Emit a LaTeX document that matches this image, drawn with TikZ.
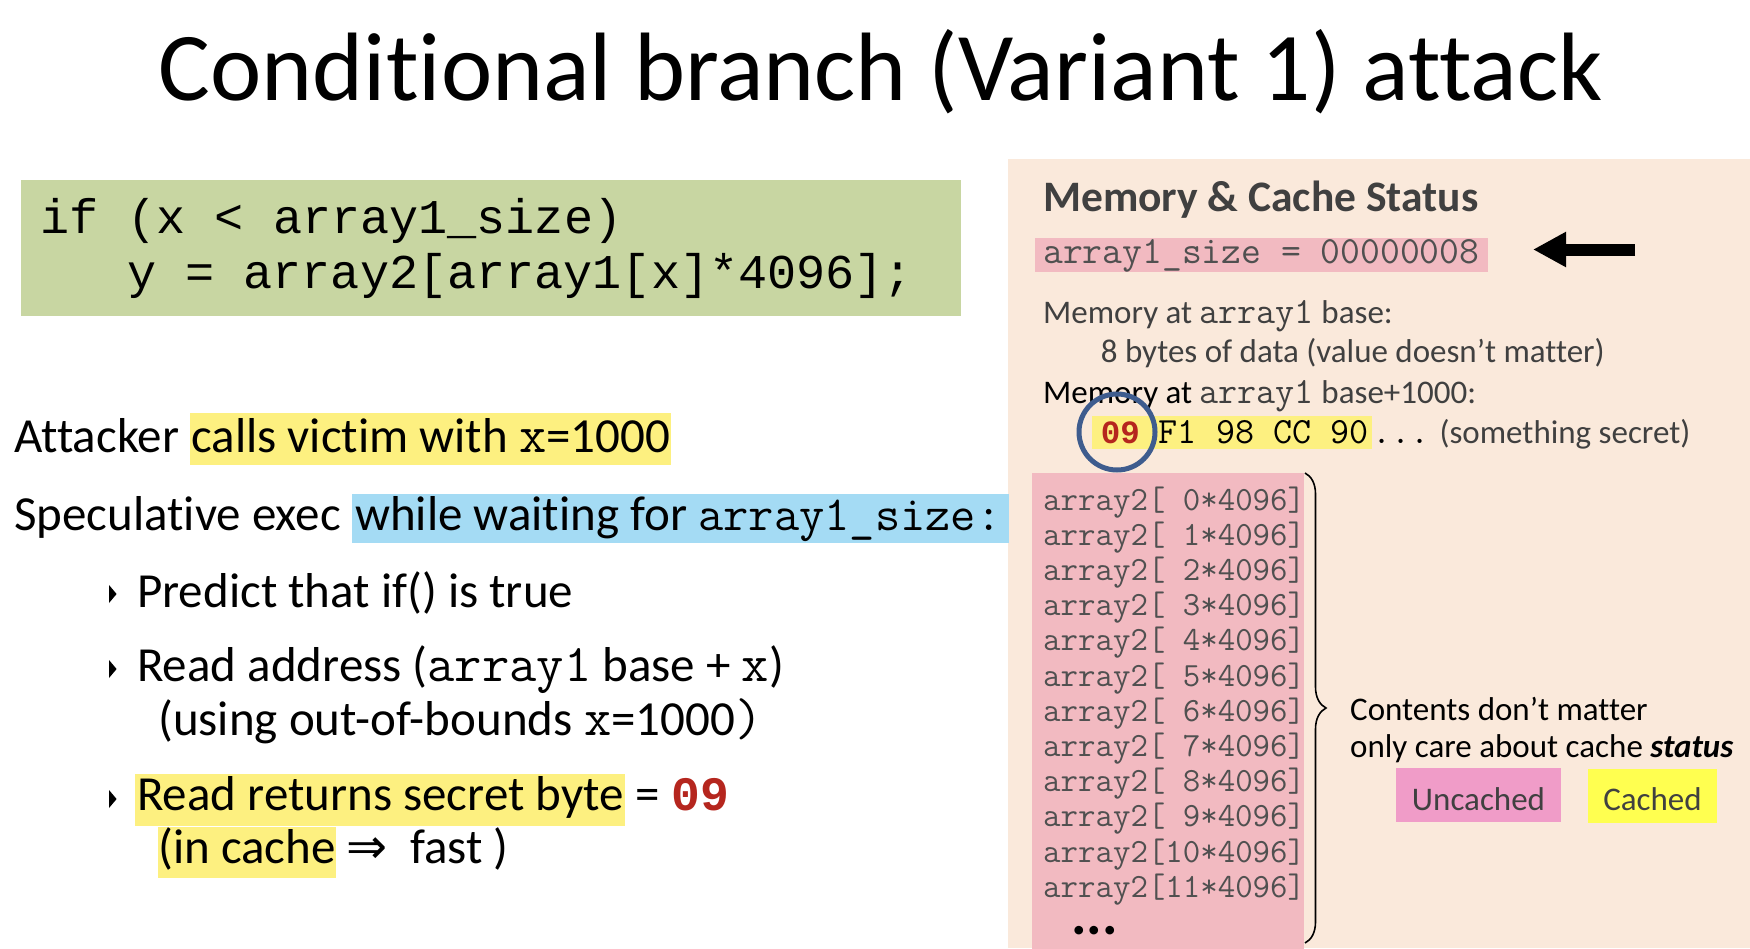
\documentclass[tikz,border=0pt]{standalone}
\usepackage{fontspec}
\setmainfont{Carlito}[Ligatures=NoCommon]
\newfontfamily\codefont{Liberation Mono}
\newfontfamily\symfont{DejaVu Sans}
\usetikzlibrary{arrows.meta,decorations.pathreplacing}

\definecolor{panelpeach}{RGB}{250,233,219}
\definecolor{sizepink}{RGB}{242,186,193}
\definecolor{codegreen}{RGB}{200,214,162}
\definecolor{hlyellow}{RGB}{253,240,128}
\definecolor{hlblue}{RGB}{164,219,244}
\definecolor{uncachedpink}{RGB}{240,156,200}
\definecolor{cachedyellow}{RGB}{255,255,80}
\definecolor{textgray}{RGB}{64,64,64}
\definecolor{monogray}{RGB}{80,80,80}
\definecolor{secretred}{RGB}{181,38,30}
\definecolor{ringblue}{RGB}{62,92,142}

% font size in pt, baselineskip equal to it
\newcommand\setfs[1]{\fontsize{#1}{#1}\selectfont}
% inline highlight: colour, height above baseline, depth below, text
\newcommand\hlite[4]{\begingroup\setlength\fboxsep{0pt}\colorbox{#1}{\rule[-#3]{0pt}{\dimexpr#2+#3\relax}#4}\endgroup}
% typewriter words inside the body text
\newcommand\tmono[1]{{\ttfamily\setfs{53}#1}}
\newcommand\pmono[1]{{\ttfamily\setfs{37}#1}}

\tikzset{
  body/.style={anchor=base west, inner sep=0pt, font=\setfs{49}},
  panel text/.style={anchor=base west, inner sep=0pt, font=\setfs{33}, text=textgray},
  row text/.style={anchor=base west, inner sep=0pt, font=\ttfamily\setfs{33.9}, text=monogray},
  code text/.style={anchor=base west, inner sep=0pt, font=\codefont\setfs{48.5}},
  bullet/.style={fill=black},
  legend box/.style={anchor=base, inner xsep=0pt, inner ysep=0pt, font=\setfs{33}, text=textgray},
}

\begin{document}
\begin{tikzpicture}[x=1pt,y=-1pt]
\useasboundingbox (0,0) rectangle (1750,948);
\fill[white] (0,0) rectangle (1750,948);

% status panel background
\fill[panelpeach] (1008,159) rectangle (1750,948);

% heading
\node[anchor=base, inner sep=0pt, font=\setfs{97.2}] (title) at (881,100) {Conditional branch (Variant 1) attack};

% victim code
\node[fill=codegreen, anchor=north west, minimum width=940, minimum height=136, inner sep=0pt] (codebox) at (20.6,180) {};
\node[code text] (code1) at (40,233) {if (x < array1\_size)};
\node[code text] (code2) at (127,288) {y = array2[array1[x]*4096];};

% attack narrative
\node[body] (line1) at (14,452) {Attacker \hlite{hlyellow}{39pt}{13pt}{\kern1pt calls victim with \tmono{x}=1000\kern1pt}};
\node[body] (line2) at (14,530) {Speculative exec \hlite{hlblue}{36pt}{13pt}{\kern3pt while waiting for {\ttfamily\setfs{49}array1\_size:}\kern8pt}};

\fill[bullet] (109,585) -- (116.6,594) -- (109,603) -- cycle;
\node[body] (b1) at (137,607) {Predict that if() is true};

\fill[bullet] (109,660) -- (116.6,669) -- (109,678) -- cycle;
\node[body] (b2) at (137,681) {Read address (\tmono{array1} base + \tmono{x})};
\node[body] (b2b) at (158,735) {(using out-of-bounds \tmono{x}=1000\tmono{)}};

\fill[bullet] (109,790) -- (116.6,799) -- (109,808) -- cycle;
\node[body] (b3) at (135,810) {\hlite{hlyellow}{36pt}{16pt}{\kern2pt Read returns secret byte\kern1pt} = {\codefont\bfseries\color{secretred}\setfs{48}09}};
\node[body] (b3b) at (158,863) {\hlite{hlyellow}{36pt}{15pt}{(in cache} {\symfont ⇒}\ \ fast )};

% memory & cache status panel
\node[anchor=base west, inner sep=0pt, font=\bfseries\setfs{43.5}, text=textgray] (mtitle) at (1043,211) {Memory \& Cache Status};
\node[fill=sizepink, anchor=base west, inner xsep=8.5pt, inner ysep=0pt, text height=25pt, text depth=9pt, font=\ttfamily\setfs{38.5}, text=monogray] (sizebox) at (1034.5,263) {array1\_size = 00000008};

\coordinate (arrowtail) at (1635,249.5);
\coordinate (arrowtip) at (1533,249.5);
\draw[line width=12pt, -{Triangle[length=33pt,width=33pt]}] (arrowtail) -- (arrowtip);

\node[panel text] (mem1) at (1043,323) {Memory at \pmono{array1} base:};
\node[panel text] (mem1b) at (1100.6,362) {8 bytes of data (value doesn’t matter)};
\node[panel text] (mem2) at (1043,403) {{\color{black}Memory at} \pmono{array1} base+1000:};
\node[panel text] (secret) at (1092,443) {\hlite{hlyellow}{27pt}{6pt}{\kern8.6pt{\codefont\bfseries\color{secretred}\setfs{32.5}09}{\ttfamily\setfs{37}\color{black}\ F1 98 CC 90}\kern4pt}{\ttfamily\setfs{37}\color{black}...} (something secret)};
\node[draw=ringblue, line width=5pt, circle, minimum size=76pt, inner sep=0pt] (ring) at (1117,432) {};

% array2 pages
\node[fill=sizepink, anchor=north west, minimum width=272, minimum height=476, inner sep=0pt] (column) at (1032,473) {};
\foreach \i in {0,...,11}{
  \node[row text] (row\i) at (1043,510+35.2*\i) {\ifnum\i<10 array2[\ \i*4096]\else array2[\i*4096]\fi};
}
\node[anchor=base west, inner sep=0pt, font=\bfseries\setfs{58}] (dots) at (1071,934) {...};

\coordinate (bracetop) at (1305,473);
\coordinate (bracebot) at (1305,943);
\draw[line width=1.6pt, decorate, decoration={brace, amplitude=21pt}] (bracetop) -- (bracebot);

\node[panel text, text=black] (note1) at (1350,720) {Contents don’t matter};
\node[panel text, text=black] (note2) at (1350,757) {only care about cache \textbf{\textit{status}}};

\node[legend box, fill=uncachedpink, minimum width=165pt, text height=42pt, text depth=12pt] (uncached) at (1478.5,810) {Uncached};
\node[legend box, fill=cachedyellow, minimum width=129pt, text height=41.5pt, text depth=12.5pt] (cached) at (1652.5,810.5) {Cached};
\end{tikzpicture}
\end{document}
